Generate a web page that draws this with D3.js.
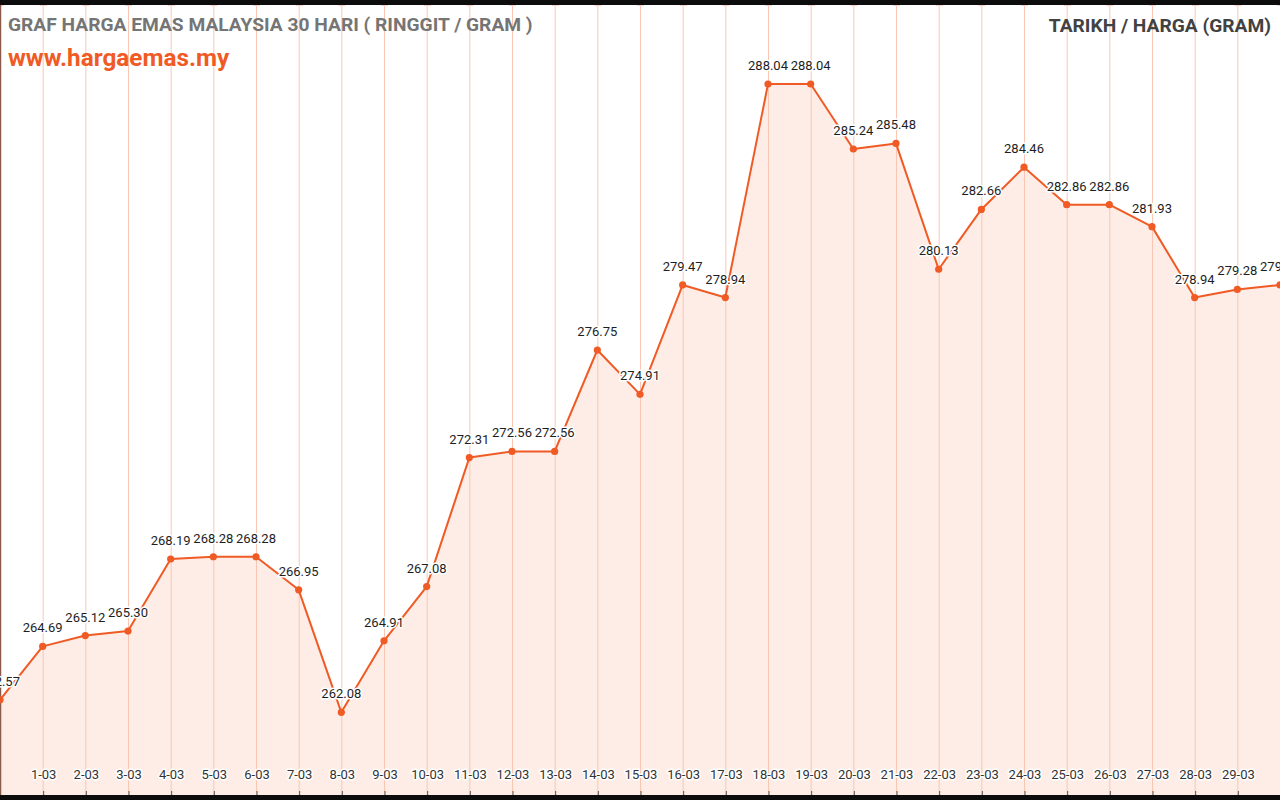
<!DOCTYPE html>
<html>
<head>
<meta charset="utf-8">
<script src="https://cdn.jsdelivr.net/npm/d3@7/dist/d3.min.js"></script>
<style>
  html, body { margin: 0; padding: 0; background: #0c0c0c; overflow: hidden; }
  svg { display: block; }
  text { font-family: Roboto, "Noto Sans", sans-serif; }
</style>
</head>
<body>
<svg id="chart" width="1280" height="800"></svg>
<script>
// ---- data ----
const dates = ["29-02", "1-03", "2-03", "3-03", "4-03", "5-03", "6-03", "7-03", "8-03", "9-03",
  "10-03", "11-03", "12-03", "13-03", "14-03", "15-03", "16-03", "17-03", "18-03", "19-03",
  "20-03", "21-03", "22-03", "23-03", "24-03", "25-03", "26-03", "27-03", "28-03", "29-03", "30-03"];
const prices = [262.57, 264.69, 265.12, 265.30, 268.19, 268.28, 268.28, 266.95, 262.08, 264.91,
  267.08, 272.31, 272.56, 272.56, 276.75, 274.91, 279.47, 278.94, 288.04, 288.04,
  285.24, 285.48, 280.13, 282.66, 284.46, 282.86, 282.86, 281.93, 278.94, 279.28, 279.47];
const titleText = "GRAF HARGA EMAS MALAYSIA 30 HARI ( RINGGIT / GRAM )";
const siteText = "www.hargaemas.my";
const rightTitle = "TARIKH / HARGA (GRAM)";

const data = dates.map((d, i) => ({ date: d, price: prices[i] }));

const W = 1280, H = 800;
const plotTop = 5, plotBottom = 795;
const svg = d3.select("#chart");

// plot background
svg.append("rect").attr("x", 0).attr("y", plotTop).attr("width", W).attr("height", plotBottom - plotTop).attr("fill", "#ffffff");

const x = d3.scalePoint().domain(dates).range([0, W]);
const y = d3.scaleLog().domain(d3.extent(prices)).range([712.3, 84]);

// area fill
const area = d3.area().x(d => x(d.date)).y0(plotBottom).y1(d => y(d.price));
svg.append("path").datum(data).attr("d", area).attr("fill", "#fdede6");

// vertical gridlines
svg.append("g").selectAll("line").data(dates).join("line")
  .attr("x1", d => x(d) + 0.5).attr("x2", d => x(d) + 0.5)
  .attr("y1", plotTop).attr("y2", plotBottom)
  .attr("stroke", "#f9c6b4").attr("stroke-width", 1);

// top small tick marks
svg.append("g").selectAll("line").data(dates).join("line")
  .attr("x1", d => x(d) - 3).attr("x2", d => x(d) + 4)
  .attr("y1", plotTop + 0.5).attr("y2", plotTop + 0.5)
  .attr("stroke", "#fbd3c4").attr("stroke-width", 1);

// left border
svg.append("line").attr("x1", 0.5).attr("x2", 0.5).attr("y1", plotTop).attr("y2", plotBottom)
  .attr("stroke", "#8a5a4a").attr("stroke-width", 1.5);

// bottom axis (ticks point up, labels above)
const visibleTicks = dates.filter(d => x(d) > 20 && x(d) < W - 20);
const axis = d3.axisTop(x).tickValues(visibleTicks).tickSize(4).tickPadding(12);
const gx = svg.append("g").attr("transform", `translate(0.5,${plotBottom})`).call(axis);
gx.select(".domain").remove();
gx.selectAll(".tick line").attr("stroke", "#555");
gx.selectAll(".tick text")
  .attr("font-size", 13).attr("fill", "#333")
  .attr("font-family", "Roboto, sans-serif")
  .attr("stroke", "#ffffff").attr("stroke-width", 3).attr("paint-order", "stroke")
  .attr("stroke-linejoin", "round");

// line
const line = d3.line().x(d => x(d.date)).y(d => y(d.price));
svg.append("path").datum(data).attr("d", line)
  .attr("fill", "none").attr("stroke", "#f05a24").attr("stroke-width", 2).attr("stroke-linejoin", "round");

// points
svg.append("g").selectAll("circle").data(data).join("circle")
  .attr("cx", d => x(d.date)).attr("cy", d => y(d.price)).attr("r", 3.6)
  .attr("fill", "#f05a24");

// value labels
svg.append("g").selectAll("text").data(data).join("text")
  .attr("x", d => x(d.date)).attr("y", d => y(d.price) - 14)
  .attr("text-anchor", "middle").attr("font-size", 13).attr("fill", "#1e1e1e")
  .attr("stroke", "#ffffff").attr("stroke-width", 3).attr("paint-order", "stroke")
  .attr("stroke-linejoin", "round")
  .text(d => d.price.toFixed(2));

// titles
svg.append("text").attr("x", 8).attr("y", 31).attr("font-size", 19.2).attr("font-weight", "bold")
  .attr("fill", "#757575").text(titleText);
svg.append("text").attr("x", 8).attr("y", 66).attr("font-size", 24.3).attr("font-weight", "bold")
  .attr("fill", "#f05a24").text(siteText);
svg.append("text").attr("x", 1271).attr("y", 32).attr("text-anchor", "end").attr("font-size", 19.2)
  .attr("font-weight", "bold").attr("fill", "#424242").text(rightTitle);
</script>
</body>
</html>
